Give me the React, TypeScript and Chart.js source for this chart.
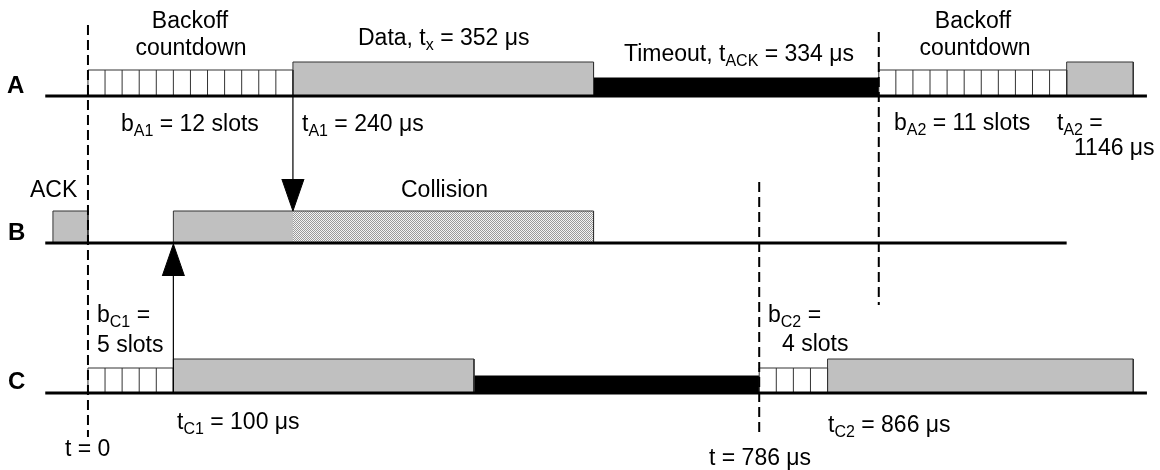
import React, { useEffect, useRef } from 'react';
import { Chart, registerables } from 'chart.js';

Chart.register(...registerables);

// ---------------- data (times in µs) ----------------
const stations = ['A', 'B', 'C'];
const slotTime = 20;
const backoffStation = ['A', 'A', 'C', 'C'];
const backoffStart = [0, 926, 0, 786];
const backoffSlots = [12, 11, 5, 4];
const frameStation = ['A', 'A', 'B', 'C', 'C'];
const frameStart = [240, 1146, 100, 100, 866];
const frameEnd = [592, 1224, 592, 452, 1224];
const ackStation = ['B'];
const ackStart = [-41];
const ackEnd = [0];
const collisionStation = ['B'];
const collisionStart = [240];
const collisionEnd = [592];
const timeoutStation = ['A', 'C'];
const timeoutStart = [592, 452];
const timeoutEnd = [926, 786];
const markerTimes = [0, 786, 926];
const arrowTimes = [240, 100];
const arrowFrom = ['A', 'C'];
const arrowTo = ['B', 'B'];
const lineStart = [-50, -50, -50];
const lineEnd = [1240, 1146, 1240];

// ---------------- layout / style ----------------
const X_MIN = -103;
const X_MAX = 1255.3;
const ROW_BASE: Record<string, number> = { A: 96, B: 243, C: 393 };
const FRAME_H: Record<string, number> = { A: 34, B: 32, C: 34 };
const SLOT_H: Record<string, number> = { A: 26, B: 26, C: 25 };
const TIMEOUT_H: Record<string, number> = { A: 18, B: 18, C: 17 };
const MARKER_Y = [
  [25, 437],
  [182, 437],
  [32, 305],
];
const HEAD_LEN = 32;
const HEAD_HALF = 13; // µs
const GRAY = '#c0c0c0';
const EDGE = '#333333';
const FONT = '"Liberation Sans", Arial, Helvetica, sans-serif';

const labels = [
  { t: 'Backoff', x: 190, y: 28, align: 'center' },
  { t: 'countdown', x: 191, y: 55, align: 'center' },
  { t: 'Data, t_{x} = 352 μs', x: 358, y: 45 },
  { t: 'Timeout, t_{ACK} = 334 μs', x: 624, y: 61 },
  { t: 'Backoff', x: 973, y: 28, align: 'center' },
  { t: 'countdown', x: 975, y: 55, align: 'center' },
  { t: 'b_{A1} = 12 slots', x: 121, y: 131 },
  { t: 't_{A1} = 240 μs', x: 302, y: 131 },
  { t: 'b_{A2} = 11 slots', x: 894, y: 130 },
  { t: 't_{A2} =', x: 1057, y: 130 },
  { t: '1146 μs', x: 1074, y: 155 },
  { t: 'ACK', x: 30, y: 197 },
  { t: 'Collision', x: 401, y: 197 },
  { t: 'b_{C1} =', x: 97, y: 322 },
  { t: '5 slots', x: 97, y: 352 },
  { t: 'b_{C2} =', x: 768, y: 322 },
  { t: '4 slots', x: 782, y: 351 },
  { t: 't_{C1} = 100 μs', x: 177, y: 429 },
  { t: 't_{C2} = 866 μs', x: 828, y: 432 },
  { t: 't = 0', x: 65, y: 456 },
  { t: 't = 786 μs', x: 709, y: 465 },
];
const rowLabelX = [7, 8, 8];
const rowLabelY = [93, 240, 389];

function parseRich(s: string) {
  const parts: { t: string; sub: boolean }[] = [];
  const re = /_\{([^}]*)\}/g;
  let last = 0;
  let m: RegExpExecArray | null;
  while ((m = re.exec(s))) {
    if (m.index > last) parts.push({ t: s.slice(last, m.index), sub: false });
    parts.push({ t: m[1], sub: true });
    last = m.index + m[0].length;
  }
  if (last < s.length) parts.push({ t: s.slice(last), sub: false });
  return parts;
}

const textPlugin = {
  id: 'diagramText',
  afterDraw(chart: any) {
    const ctx = chart.ctx as CanvasRenderingContext2D;
    ctx.save();
    ctx.fillStyle = '#000';
    ctx.textBaseline = 'alphabetic';
    ctx.textAlign = 'left';
    const main = `23px ${FONT}`;
    const sub = `16px ${FONT}`;
    labels.forEach((l: any) => {
      const parts = parseRich(l.t);
      let w = 0;
      parts.forEach((p) => {
        ctx.font = p.sub ? sub : main;
        w += ctx.measureText(p.t).width;
      });
      let cx = l.align === 'center' ? l.x - w / 2 : l.x;
      parts.forEach((p) => {
        ctx.font = p.sub ? sub : main;
        ctx.fillText(p.t, cx, p.sub ? l.y + 5 : l.y);
        cx += ctx.measureText(p.t).width;
      });
    });
    ctx.font = `bold 24px ${FONT}`;
    stations.forEach((s, i) => ctx.fillText(s, rowLabelX[i], rowLabelY[i]));
    ctx.restore();
  },
};

const common = { type: 'line', pointRadius: 0, pointHoverRadius: 0, tension: 0, showLine: true };

function rect(x0: number, x1: number, b: number, h: number, fillColor: any, border: string, bw: number, order: number) {
  return {
    ...common,
    data: [
      { x: x0, y: b },
      { x: x0, y: b - h },
      { x: x1, y: b - h },
      { x: x1, y: b },
    ],
    fill: fillColor ? { value: b } : false,
    backgroundColor: fillColor || 'rgba(0,0,0,0)',
    borderColor: border,
    borderWidth: bw,
    order,
  };
}

function vline(x: number, y0: number, y1: number, color: string, width: number, order: number, dash?: number[]) {
  return {
    ...common,
    data: [
      { x, y: y0 },
      { x, y: y1 },
    ],
    borderColor: color,
    borderWidth: width,
    borderDash: dash || [],
    fill: false,
    order,
  };
}

export default function App() {
  const ref = useRef<HTMLCanvasElement>(null);
  useEffect(() => {
    if (!ref.current) return;
    const pc = document.createElement('canvas');
    pc.width = 2;
    pc.height = 2;
    const p = pc.getContext('2d')!;
    p.fillStyle = '#f4f4f4';
    p.fillRect(0, 0, 2, 2);
    p.fillStyle = '#9a9a9a';
    p.fillRect(0, 0, 1, 1);
    p.fillRect(1, 1, 1, 1);
    const pattern = ref.current.getContext('2d')!.createPattern(pc, 'repeat');

    const ds: any[] = [];
    // baselines
    stations.forEach((s, i) => {
      ds.push({
        ...common,
        data: [
          { x: lineStart[i], y: ROW_BASE[s] },
          { x: lineEnd[i], y: ROW_BASE[s] },
        ],
        borderColor: '#000',
        borderWidth: 3,
        fill: false,
        order: 0,
      });
    });
    // arrows
    arrowTimes.forEach((t, i) => {
      const from = ROW_BASE[arrowFrom[i]];
      const down = from < ROW_BASE[arrowTo[i]];
      const tip = down ? ROW_BASE[arrowTo[i]] - FRAME_H[arrowTo[i]] : ROW_BASE[arrowTo[i]] + 1;
      const hb = down ? tip - HEAD_LEN : tip + HEAD_LEN;
      ds.push(vline(t, from, hb, '#000', 1.2, 1));
      ds.push({
        ...common,
        data: [
          { x: t - HEAD_HALF, y: hb },
          { x: t, y: tip },
          { x: t + HEAD_HALF, y: hb },
        ],
        fill: { value: hb },
        backgroundColor: '#000',
        borderColor: '#000',
        borderWidth: 1,
        order: 1,
      });
    });
    // time markers (dashed)
    markerTimes.forEach((t, i) => {
      ds.push(vline(t, MARKER_Y[i][0], MARKER_Y[i][1], '#000', 2, 2, [10, 5]));
    });
    // backoff slots
    backoffStart.forEach((t0, i) => {
      const s = backoffStation[i];
      const t1 = t0 + backoffSlots[i] * slotTime;
      ds.push(rect(t0, t1, ROW_BASE[s], SLOT_H[s], '#ffffff', EDGE, 1, 4));
      for (let k = 1; k < backoffSlots[i]; k++) {
        ds.push(vline(t0 + k * slotTime, ROW_BASE[s], ROW_BASE[s] - SLOT_H[s], EDGE, 1, 3));
      }
    });
    // frames: fills then outlines
    frameStart.forEach((t0, i) => {
      const s = frameStation[i];
      ds.push(rect(t0, frameEnd[i], ROW_BASE[s], FRAME_H[s], GRAY, 'rgba(0,0,0,0)', 0, 6));
      ds.push(rect(t0, frameEnd[i], ROW_BASE[s], FRAME_H[s], null, EDGE, 1, 3));
    });
    ackStart.forEach((t0, i) => {
      const s = ackStation[i];
      ds.push(rect(t0, ackEnd[i], ROW_BASE[s], FRAME_H[s], GRAY, 'rgba(0,0,0,0)', 0, 6));
      ds.push(rect(t0, ackEnd[i], ROW_BASE[s], FRAME_H[s], null, EDGE, 1, 3));
    });
    collisionStart.forEach((t0, i) => {
      const s = collisionStation[i];
      ds.push(rect(t0, collisionEnd[i], ROW_BASE[s], FRAME_H[s], pattern, 'rgba(0,0,0,0)', 0, 5));
    });
    // timeouts
    timeoutStart.forEach((t0, i) => {
      const s = timeoutStation[i];
      ds.push(rect(t0, timeoutEnd[i], ROW_BASE[s], TIMEOUT_H[s], '#000', '#000', 1, 4));
    });

    const chart = new Chart(ref.current, {
      type: 'line',
      data: { datasets: ds },
      options: {
        animation: false,
        responsive: false,
        maintainAspectRatio: false,
        layout: { padding: 0 },
        events: [],
        plugins: { legend: { display: false }, tooltip: { enabled: false } },
        scales: {
          x: { type: 'linear', min: X_MIN, max: X_MAX, display: false },
          y: { type: 'linear', min: 0, max: 470, reverse: true, display: false },
        },
      },
      plugins: [textPlugin],
    } as any);
    return () => chart.destroy();
  }, []);

  return (
    <div style={{ position: 'fixed', left: 0, top: 0, width: 1160, height: 470, background: '#fff' }}>
      <canvas ref={ref} width={1160} height={470} style={{ display: 'block' }} />
    </div>
  );
}
